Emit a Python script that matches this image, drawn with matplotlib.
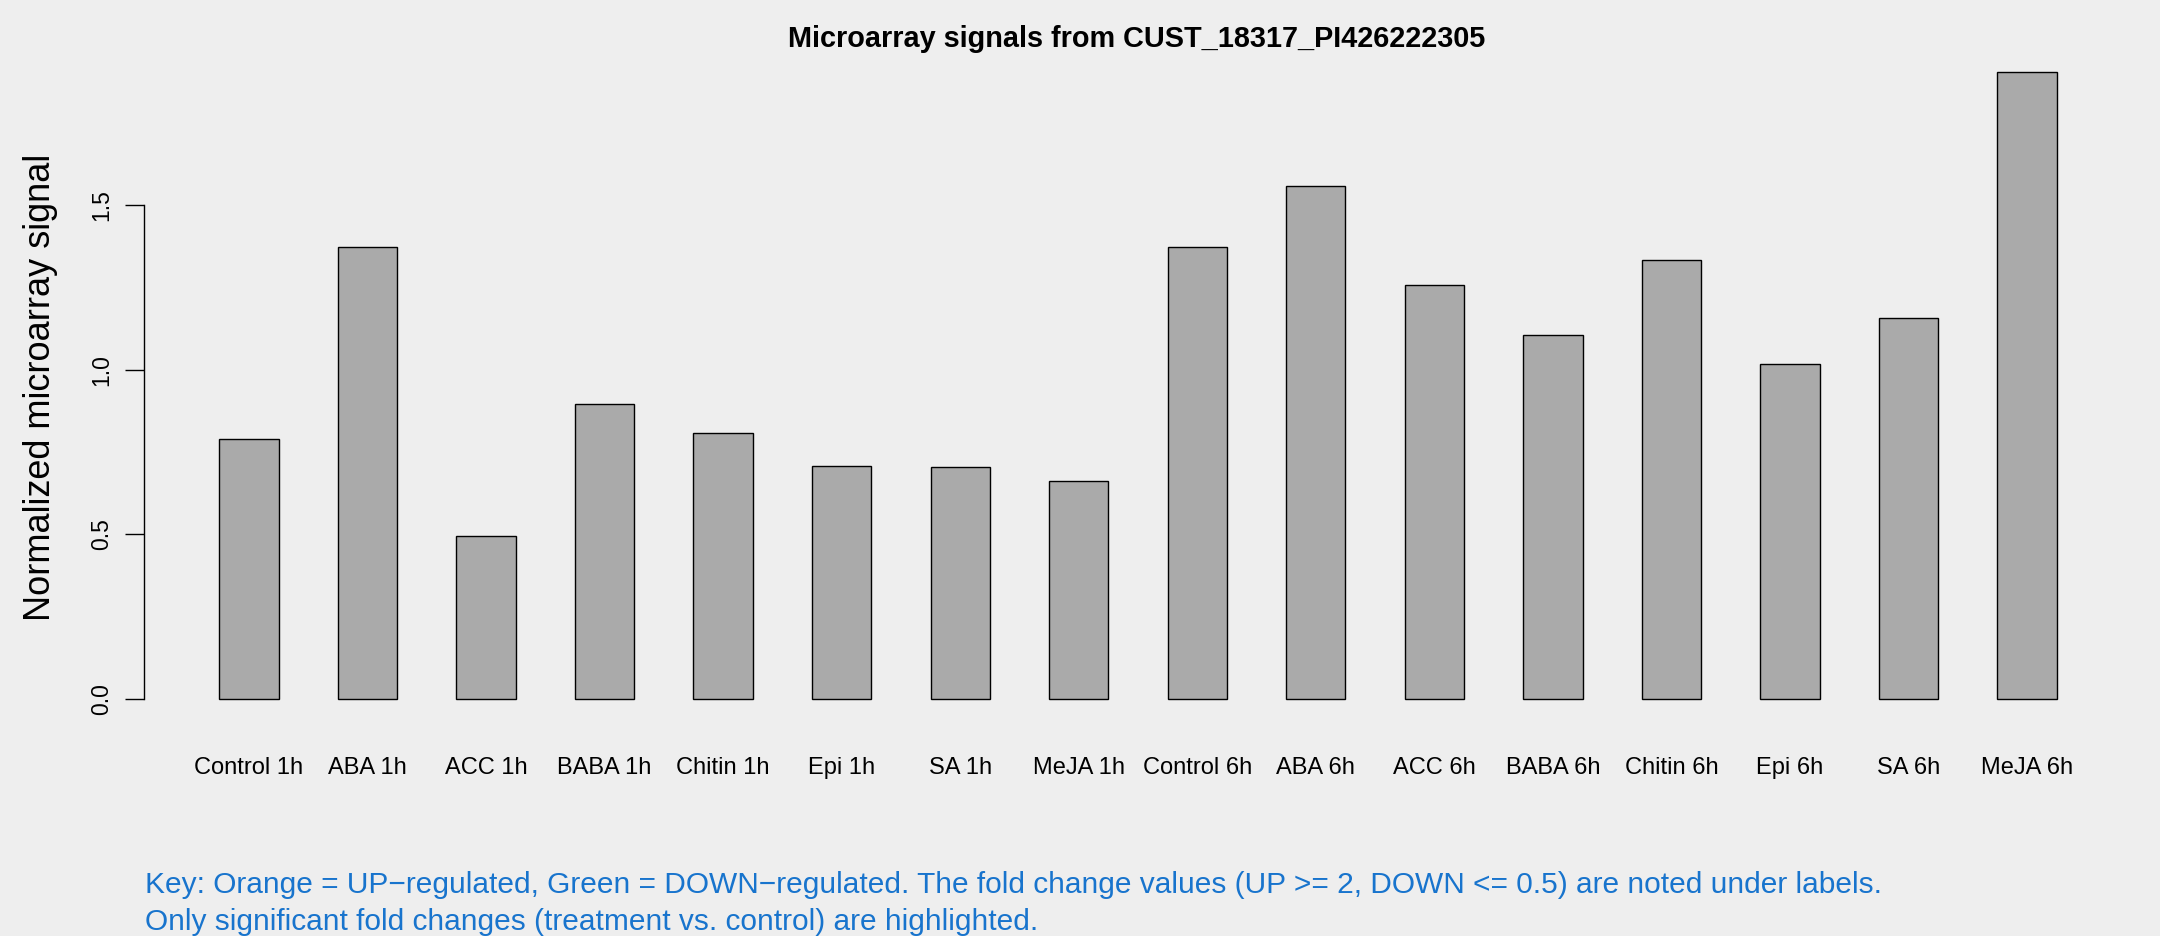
import matplotlib
matplotlib.use('Agg')
import matplotlib.pyplot as plt
import numpy as np

plt.rcParams['font.family'] = ['Liberation Sans', 'DejaVu Sans']

# bar labels and heights
labels = ['Control 1h', 'ABA 1h', 'ACC 1h', 'BABA 1h', 'Chitin 1h', 'Epi 1h', 'SA 1h', 'MeJA 1h',
          'Control 6h', 'ABA 6h', 'ACC 6h', 'BABA 6h', 'Chitin 6h', 'Epi 6h', 'SA 6h', 'MeJA 6h']
signal = [0.791, 1.372, 0.494, 0.896, 0.809, 0.708, 0.704, 0.662,
          1.374, 1.558, 1.257, 1.106, 1.335, 1.019, 1.159, 1.906]
yticks = [0.0, 0.5, 1.0, 1.5]

title = 'Microarray signals from CUST_18317_PI426222305'
ylabel = 'Normalized microarray signal'
key_lines = ['Key: Orange = UP\u2212regulated, Green = DOWN\u2212regulated. '
             'The fold change values (UP >= 2, DOWN <= 0.5) are noted under labels.',
             'Only significant fold changes (treatment vs. control) are highlighted.']

bg = '#EEEEEE'
W, H = 2160, 936
fig = plt.figure(figsize=(W / 100, H / 100), dpi=100, facecolor=bg)

# plot region in pixels (R-style barplot, width 1, space 1)
left, right, top, bottom = 143.5, 2132.5, 46.7, 723.9
ax = fig.add_axes([left / W, 1 - bottom / H, (right - left) / W, (bottom - top) / H])
ax.set_facecolor(bg)

x = 1.5 + 2 * np.arange(len(signal))
ax.bar(x, signal, width=1.0, color='#AAAAAA', edgecolor='black', linewidth=1.0)

n = len(signal)
ax.set_xlim(1 - 0.04 * 2 * n, 2 * n + 0.04 * 2 * n)
ymax = max(signal)
ax.set_ylim(-0.04 * ymax, ymax * 1.04)

for s in ['top', 'right', 'bottom']:
    ax.spines[s].set_visible(False)
ax.spines['left'].set_bounds(0, 1.5)
ax.spines['left'].set_linewidth(1.0)

ax.set_yticks(yticks)
ax.set_yticklabels(['%.1f' % v for v in yticks], rotation=90, va='center', fontsize=16.5)
ax.tick_params(axis='y', length=14, width=1.0, pad=8)

ax.set_xticks(x)
ax.set_xticklabels(labels, fontsize=17)
ax.tick_params(axis='x', length=0, pad=24)

fig.text(1137 / W, 1 - 39 / H, title, ha='center', va='center', fontsize=20.8, fontweight='bold')
fig.text(41 / W, 1 - 387 / H, ylabel, rotation=90, ha='center', va='center', fontsize=26)

fig.text(145 / W, 1 - 885 / H, key_lines[0], ha='left', va='center', fontsize=21.5, color='#1874CD')
fig.text(145 / W, 1 - 922 / H, key_lines[1], ha='left', va='center', fontsize=21.5, color='#1874CD')

fig.savefig('out.png', dpi=100, facecolor=bg)
